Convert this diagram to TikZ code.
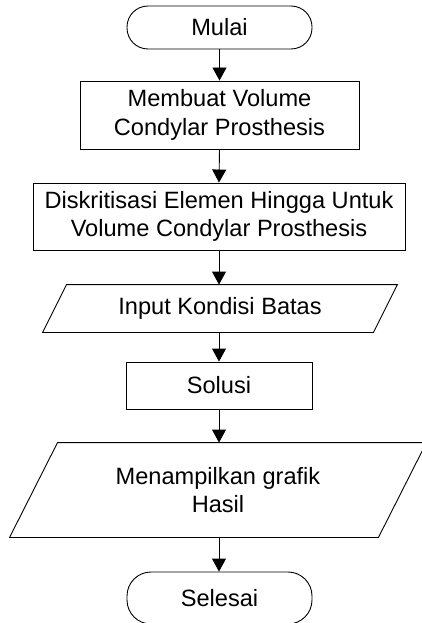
\documentclass[tikz,border=0pt]{standalone}
\usepackage{fontspec}
\setmainfont{Liberation Sans}
\usetikzlibrary{arrows.meta}
\begin{document}
\begin{tikzpicture}[x=1pt,y=-1pt,
  every node/.style={font=\fontsize{23.6}{28.5}\selectfont,align=center,inner sep=0pt,line width=0.9pt},
  procbox/.style={draw,rectangle,minimum width=#1},
  termbox/.style={draw,rectangle,rounded corners=21pt},
  iobox/.style={rectangle,draw=none},
  flow/.style={line width=0.9pt,-{Triangle[width=14pt,length=13pt]}}]
\useasboundingbox (0,0) rectangle (422,623);
\node[termbox,minimum width=185pt,minimum height=43pt] (mulai) at (219.5,27.5) {Mulai};
\node[procbox=279pt,minimum height=68pt] (buat) at (219.5,115) {Membuat Volume\\Condylar Prosthesis};
\node[procbox=372pt,minimum height=67pt] (disk) at (219,216.5) {Diskritisasi Elemen Hingga Untuk\\Volume Condylar Prosthesis};
\node[iobox,minimum width=330pt,minimum height=47pt] (input) at (220,308.5) {Input Kondisi Batas};
\draw[line width=0.9pt] ([xshift=12pt]input.north west) -- ([xshift=12pt]input.north east)
  -- ([xshift=-12pt]input.south east) -- ([xshift=-12pt]input.south west) -- cycle;
\node[procbox=186pt,minimum height=47pt] (solusi) at (219,385.5) {Solusi};
\node[iobox,minimum width=368pt,minimum height=94pt] (tampil) at (218,490) {Menampilkan grafik\\Hasil};
\draw[line width=0.9pt] ([xshift=24pt]tampil.north west) -- ([xshift=24pt]tampil.north east)
  -- ([xshift=-24pt]tampil.south east) -- ([xshift=-24pt]tampil.south west) -- cycle;
\node[draw,rectangle,rounded corners=24pt,minimum width=185pt,minimum height=52pt] (selesai) at (219.5,598) {Selesai};
\draw[flow] (mulai.south) -- (buat.north);
\draw[flow] (buat.south) -- (disk.north);
\draw[flow] (disk.south) -- (disk.south |- input.north);
\draw[flow] (disk.south |- input.south) -- (disk.south |- solusi.north);
\draw[flow] (solusi.south) -- (solusi.south |- tampil.north);
\draw[flow] (solusi.south |- tampil.south) -- (solusi.south |- selesai.north);
\end{tikzpicture}
\end{document}
